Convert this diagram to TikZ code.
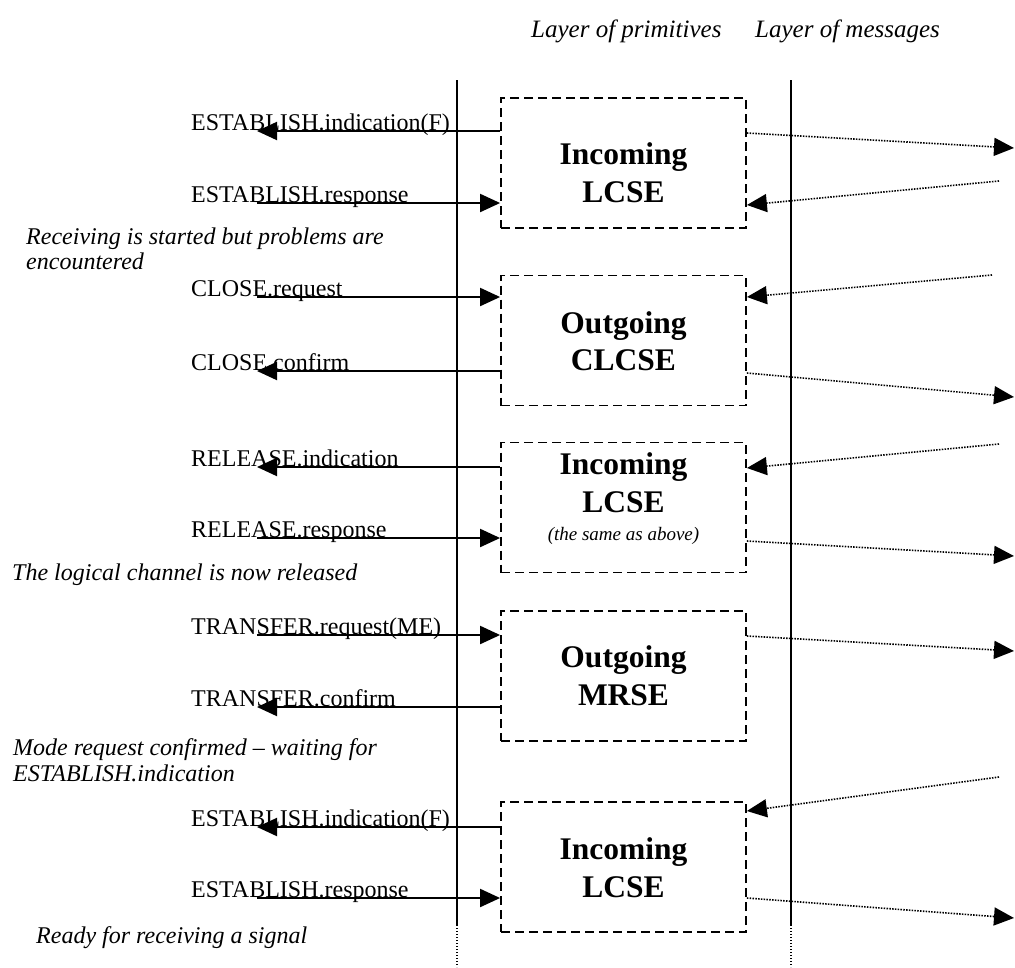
\documentclass[tikz,border=0pt]{standalone}
\usepackage{fontspec}
\setmainfont{Liberation Serif}
\usetikzlibrary{arrows.meta,calc}

\begin{document}
\begin{tikzpicture}[x=1pt,y=-1pt,
  entity/.style={draw, line width=1.8pt, dash pattern=on 9pt off 5pt,
    minimum width=245pt, minimum height=130pt, inner sep=0pt},
  lifeline/.style={line width=1.4pt},
  lifetail/.style={line width=1.2pt, dash pattern=on 1.2pt off 1.8pt},
  prim/.style={line width=2pt, -{Triangle[length=20pt,width=18pt]}},
  msg/.style={line width=1.6pt, dash pattern=on 1.5pt off 1.3pt,
    -{Triangle[length=20pt,width=18pt]}},
  lbl/.style={anchor=base west, inner sep=0pt, font=\fontsize{24}{28}\selectfont},
  note/.style={anchor=base west, inner sep=0pt, font=\fontsize{24}{27}\selectfont\itshape},
  head/.style={anchor=base west, inner sep=0pt, font=\fontsize{25}{29}\selectfont\itshape},
  sename/.style={anchor=base, inner sep=0pt, font=\fontsize{31.5}{38}\selectfont\bfseries},
  remark/.style={anchor=base, inner sep=0pt, font=\fontsize{19}{22}\selectfont\itshape}
]
\useasboundingbox (0,0) rectangle (1015,967);

% column headings
\node[head] (hp) at (531,37) {Layer of primitives};
\node[head] (hm) at (755,37) {Layer of messages};

% the two layer boundaries
\coordinate (la0) at (457,80);  \coordinate (la1) at (457,925);  \coordinate (la2) at (457,967);
\coordinate (lb0) at (791,80);  \coordinate (lb1) at (791,925);  \coordinate (lb2) at (791,967);
\draw[lifeline] (la0) -- (la1);
\draw[lifetail] (la1) -- (la2);
\draw[lifeline] (lb0) -- (lb1);
\draw[lifetail] (lb1) -- (lb2);

% signalling entities
\node[entity] (b1) at (623.5,163) {};
\node[entity] (b2) at (623.5,340.5) {};
\node[entity] (b3) at (623.5,507.5) {};
\node[entity] (b4) at (623.5,676) {};
\node[entity] (b5) at (623.5,867) {};

\node[sename] (t1a) at (623.5,164) {Incoming};
\node[sename] (t1b) at (623.5,202) {LCSE};
\node[sename] (t2a) at (623.5,333) {Outgoing};
\node[sename] (t2b) at (623.5,370) {CLCSE};
\node[sename] (t3a) at (623.5,474) {Incoming};
\node[sename] (t3b) at (623.5,512) {LCSE};
\node[remark] (t3c) at (623.5,540) {(the same as above)};
\node[sename] (t4a) at (623.5,667) {Outgoing};
\node[sename] (t4b) at (623.5,705) {MRSE};
\node[sename] (t5a) at (623.5,859) {Incoming};
\node[sename] (t5b) at (623.5,897) {LCSE};

% primitive names
\node[lbl] (p1) at (191,130) {ESTABLISH.indication(F)};
\node[lbl] (p2) at (191,202) {ESTABLISH.response};
\node[lbl] (p3) at (191,296) {CLOSE.request};
\node[lbl] (p4) at (191,370) {CLOSE.confirm};
\node[lbl] (p5) at (191,466) {RELEASE.indication};
\node[lbl] (p6) at (191,537) {RELEASE.response};
\node[lbl] (p7) at (191,634) {TRANSFER.request(ME)};
\node[lbl] (p8) at (191,706) {TRANSFER.confirm};
\node[lbl] (p9) at (191,826) {ESTABLISH.indication(F)};
\node[lbl] (p10) at (191,897) {ESTABLISH.response};

% free ends of the primitive arrows
\coordinate (e1) at (257,131);
\coordinate (e2) at (257,203);
\coordinate (e3) at (257,297);
\coordinate (e4) at (257,371);
\coordinate (e5) at (257,467);
\coordinate (e6) at (257,538);
\coordinate (e7) at (257,635);
\coordinate (e8) at (257,707);
\coordinate (e9) at (257,827);
\coordinate (e10) at (257,898);

\draw[prim] (b1.west |- e1) -- (e1);
\draw[prim] (e2) -- (b1.west |- e2);
\draw[prim] (e3) -- (b2.west |- e3);
\draw[prim] (b2.west |- e4) -- (e4);
\draw[prim] (b3.west |- e5) -- (e5);
\draw[prim] (e6) -- (b3.west |- e6);
\draw[prim] (e7) -- (b4.west |- e7);
\draw[prim] (b4.west |- e8) -- (e8);
\draw[prim] (b5.west |- e9) -- (e9);
\draw[prim] (e10) -- (b5.west |- e10);

% comments
\node[note] (n1) at (26,244) {Receiving is started but problems are};
\node[note] (n2) at (26,269) {encountered};
\node[note] (n3) at (12,580) {The logical channel is now released};
\node[note] (n4) at (13,755) {Mode request confirmed -- waiting for};
\node[note] (n5) at (13,781) {ESTABLISH.indication};
\node[note] (n6) at (36,943) {Ready for receiving a signal};

% peer messages
\coordinate (m1) at (1014,148);
\coordinate (m2) at (999,181);
\coordinate (m3) at (992,275);
\coordinate (m4) at (1014,397);
\coordinate (m5) at (999,444);
\coordinate (m6) at (1014,556);
\coordinate (m7) at (1014,651);
\coordinate (m8) at (999,777);
\coordinate (m9) at (1014,918);

\draw[msg] (b1.east |- 0,133) -- (m1);
\draw[msg] (m2) -- (b1.east |- 0,205);
\draw[msg] (m3) -- (b2.east |- 0,297);
\draw[msg] (b2.east |- 0,373) -- (m4);
\draw[msg] (m5) -- (b3.east |- 0,468);
\draw[msg] (b3.east |- 0,541) -- (m6);
\draw[msg] (b4.east |- 0,636) -- (m7);
\draw[msg] (m8) -- (b5.east |- 0,811);
\draw[msg] (b5.east |- 0,898) -- (m9);
\end{tikzpicture}
\end{document}
